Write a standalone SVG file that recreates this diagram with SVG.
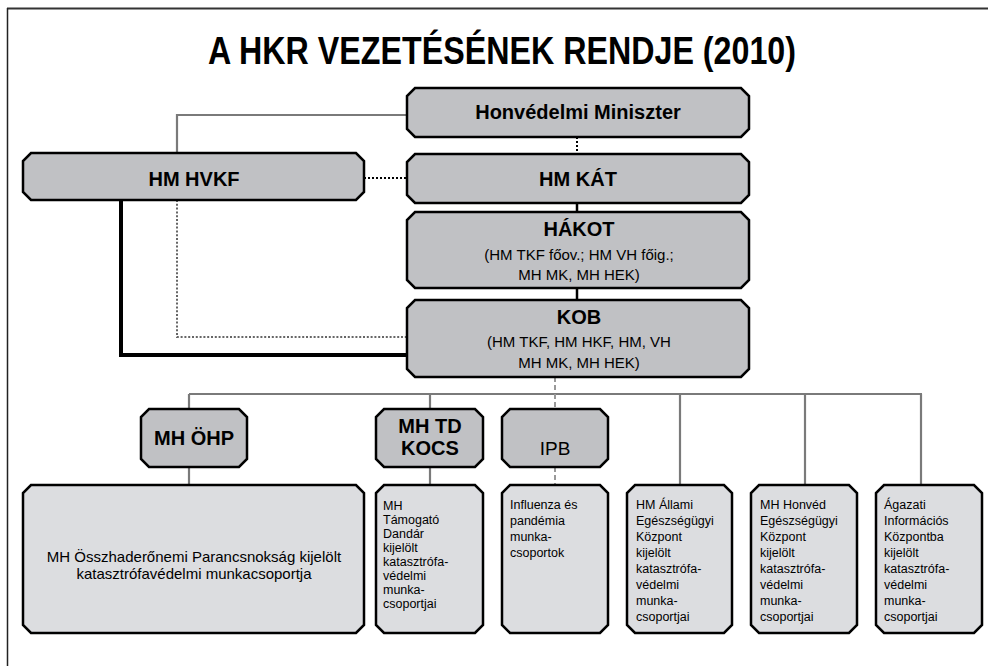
<svg xmlns="http://www.w3.org/2000/svg" width="988" height="666" viewBox="0 0 988 666">
<style>
  .dark { fill: #c0c1c4; stroke: #000; stroke-width: 2.5; }
  .light { fill: #dcdde0; stroke: #000; stroke-width: 2.5; }
  .t { font-family: "Liberation Sans", Arial, sans-serif; fill: #000; }
  .b20 { font-size: 20px; font-weight: bold; text-anchor: middle; }
  .r15 { font-size: 15px; text-anchor: middle; }
  .s { font-size: 12.5px; }
  .gray { stroke: #7a7a7a; stroke-width: 2.2; fill: none; }
</style>
<rect x="0" y="0" width="988" height="666" fill="#fff"/>
<g id="frame">
  <line x1="7" y1="8.5" x2="988" y2="8.5" stroke="#333" stroke-width="2"/>
  <line x1="7.5" y1="8" x2="7.5" y2="666" stroke="#222" stroke-width="1.5"/>
</g>
<text class="t" x="502" y="64" font-size="38" font-weight="bold" text-anchor="middle" textLength="588" lengthAdjust="spacingAndGlyphs">A HKR VEZETÉSÉNEK RENDJE (2010)</text>

<g id="connectors">
  <polyline class="gray" points="407,115 177,115 177,153"/>
  <line x1="364" y1="178" x2="407" y2="178" stroke="#000" stroke-width="2" stroke-dasharray="2 2"/>
  <line x1="577" y1="137" x2="577" y2="154" stroke="#000" stroke-width="2" stroke-dasharray="2 2"/>
  <line x1="577" y1="203" x2="577" y2="212" stroke="#000" stroke-width="2.5"/>
  <line x1="577" y1="288" x2="577" y2="300" stroke="#000" stroke-width="2.5"/>
  <polyline points="121,200 121,355 407,355" fill="none" stroke="#000" stroke-width="4"/>
  <polyline points="177,200 177,337 407,337" fill="none" stroke="#666" stroke-width="2" stroke-dasharray="2 1.8"/>
  <line x1="555" y1="377" x2="555" y2="394" stroke="#999" stroke-width="2" stroke-dasharray="5 3"/>
  <line class="gray" x1="189" y1="394" x2="922" y2="394"/>
  <line class="gray" x1="189" y1="394" x2="189" y2="409"/>
  <line class="gray" x1="189" y1="467" x2="189" y2="485"/>
  <line class="gray" x1="430" y1="394" x2="430" y2="409"/>
  <line class="gray" x1="430" y1="467" x2="430" y2="485"/>
  <line x1="555" y1="394" x2="555" y2="409" stroke="#999" stroke-width="2" stroke-dasharray="5 3"/>
  <line x1="555" y1="467" x2="555" y2="485" stroke="#999" stroke-width="2" stroke-dasharray="5 3"/>
  <line class="gray" x1="680" y1="394" x2="680" y2="485"/>
  <line class="gray" x1="805" y1="394" x2="805" y2="485"/>
  <line class="gray" x1="921" y1="394" x2="921" y2="485"/>
</g>

<g id="minister">
  <path class="dark" d="M415,88 H741 L749,96 V129 L741,137 H415 L407,129 V96 Z"/>
  <text class="t b20" x="578" y="119">Honvédelmi Miniszter</text>
</g>
<g id="hvkf">
  <path class="dark" d="M31,153 H356 L364,161 V192 L356,200 H31 L23,192 V161 Z"/>
  <text class="t b20" x="194" y="186">HM HVKF</text>
</g>
<g id="kat">
  <path class="dark" d="M415,154 H741 L749,162 V195 L741,203 H415 L407,195 V162 Z"/>
  <text class="t b20" x="578" y="186">HM KÁT</text>
</g>
<g id="hakot">
  <path class="dark" d="M415,212 H741 L749,220 V280 L741,288 H415 L407,280 V220 Z"/>
  <text class="t b20" x="579" y="236">HÁKOT</text>
  <text class="t r15" x="579" y="260">(HM TKF főov.; HM VH főig.;</text>
  <text class="t r15" x="579" y="280">MH MK, MH HEK)</text>
</g>
<g id="kob">
  <path class="dark" d="M415,300 H741 L749,308 V369 L741,377 H415 L407,369 V308 Z"/>
  <text class="t b20" x="579" y="324">KOB</text>
  <text class="t r15" x="579" y="347">(HM TKF, HM HKF, HM, VH</text>
  <text class="t r15" x="579" y="368">MH MK, MH HEK)</text>
</g>
<g id="ohp">
  <path class="dark" d="M149,409 H239 L247,417 V459 L239,467 H149 L141,459 V417 Z"/>
  <text class="t b20" x="194" y="445">MH ÖHP</text>
</g>
<g id="tdkocs">
  <path class="dark" d="M384,409 H475 L483,417 V459 L475,467 H384 L376,459 V417 Z"/>
  <text class="t b20" x="430" y="433">MH TD</text>
  <text class="t b20" x="430" y="455">KOCS</text>
</g>
<g id="ipb">
  <path class="dark" d="M510,409 H600 L608,417 V459 L600,467 H510 L502,459 V417 Z"/>
  <text class="t" x="555" y="455" font-size="19" text-anchor="middle">IPB</text>
</g>
<g id="ohp-group">
  <path class="light" d="M31,485 H356 L364,493 V625 L356,633 H31 L23,625 V493 Z"/>
  <text class="t r15" x="194" y="562">MH Összhaderőnemi Parancsnokság kijelölt</text>
  <text class="t r15" x="194" y="579">katasztrófavédelmi munkacsoportja</text>
</g>
<g id="td-group">
  <path class="light" d="M384,485 H475 L483,493 V625 L475,633 H384 L376,625 V493 Z"/>
  <text class="t s" x="383" y="509.5">
    <tspan x="383" dy="0">MH</tspan>
    <tspan x="383" dy="14">Támogató</tspan>
    <tspan x="383" dy="14">Dandár</tspan>
    <tspan x="383" dy="14">kijelölt</tspan>
    <tspan x="383" dy="14">katasztrófa-</tspan>
    <tspan x="383" dy="14">védelmi</tspan>
    <tspan x="383" dy="14">munka-</tspan>
    <tspan x="383" dy="14">csoportjai</tspan>
  </text>
</g>
<g id="influenza">
  <path class="light" d="M510,485 H600 L608,493 V625 L600,633 H510 L502,625 V493 Z"/>
  <text class="t s" x="510" y="509">
    <tspan x="510" dy="0">Influenza és</tspan>
    <tspan x="510" dy="16">pandémia</tspan>
    <tspan x="510" dy="16">munka-</tspan>
    <tspan x="510" dy="16">csoportok</tspan>
  </text>
</g>
<g id="allami">
  <path class="light" d="M635,485 H724 L732,493 V625 L724,633 H635 L627,625 V493 Z"/>
  <text class="t s" x="636" y="509">
    <tspan x="636" dy="0">HM Állami</tspan>
    <tspan x="636" dy="16">Egészségügyi</tspan>
    <tspan x="636" dy="16">Központ</tspan>
    <tspan x="636" dy="16">kijelölt</tspan>
    <tspan x="636" dy="16">katasztrófa-</tspan>
    <tspan x="636" dy="16">védelmi</tspan>
    <tspan x="636" dy="16">munka-</tspan>
    <tspan x="636" dy="16">csoportjai</tspan>
  </text>
</g>
<g id="honved">
  <path class="light" d="M759,485 H849 L857,493 V625 L849,633 H759 L751,625 V493 Z"/>
  <text class="t s" x="760" y="509">
    <tspan x="760" dy="0">MH Honvéd</tspan>
    <tspan x="760" dy="16">Egészségügyi</tspan>
    <tspan x="760" dy="16">Központ</tspan>
    <tspan x="760" dy="16">kijelölt</tspan>
    <tspan x="760" dy="16">katasztrófa-</tspan>
    <tspan x="760" dy="16">védelmi</tspan>
    <tspan x="760" dy="16">munka-</tspan>
    <tspan x="760" dy="16">csoportjai</tspan>
  </text>
</g>
<g id="agazati">
  <path class="light" d="M884,485 H974 L982,493 V625 L974,633 H884 L876,625 V493 Z"/>
  <text class="t s" x="884" y="509">
    <tspan x="884" dy="0">Ágazati</tspan>
    <tspan x="884" dy="16">Információs</tspan>
    <tspan x="884" dy="16">Központba</tspan>
    <tspan x="884" dy="16">kijelölt</tspan>
    <tspan x="884" dy="16">katasztrófa-</tspan>
    <tspan x="884" dy="16">védelmi</tspan>
    <tspan x="884" dy="16">munka-</tspan>
    <tspan x="884" dy="16">csoportjai</tspan>
  </text>
</g>
</svg>
